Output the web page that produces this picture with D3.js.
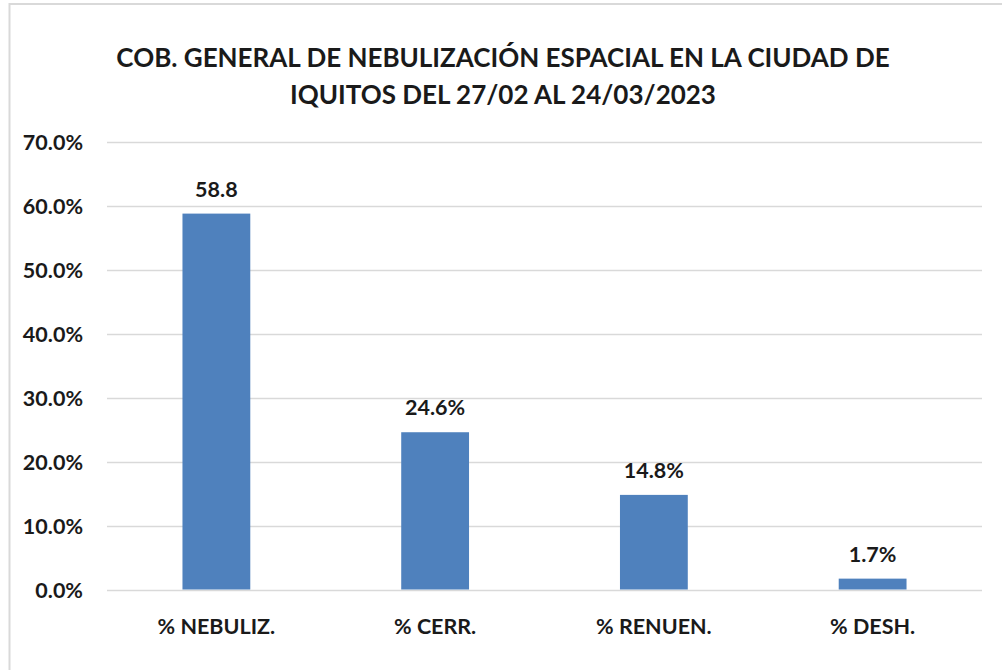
<!DOCTYPE html>
<html>
<head>
<meta charset="utf-8">
<script src="https://cdn.jsdelivr.net/npm/d3@7"></script>
<style>
  html, body { margin: 0; padding: 0; background: #ffffff; }
  svg { display: block; }
  text { font-family: Lato, "Open Sans", sans-serif; font-weight: 700; fill: #1a1a1a; }
</style>
</head>
<body>
<svg id="chart" width="1002" height="670"></svg>
<script>
const titleLines = ["COB. GENERAL DE NEBULIZACIÓN ESPACIAL EN LA CIUDAD DE", "IQUITOS DEL 27/02 AL 24/03/2023"];
const categories = ["% NEBULIZ.", "% CERR.", "% RENUEN.", "% DESH."];
const values = [58.8, 24.6, 14.8, 1.7];
const valueLabels = ["58.8", "24.6%", "14.8%", "1.7%"];
const yTicks = [0, 10, 20, 30, 40, 50, 60, 70];

const svg = d3.select("#chart");
const labelSize = 21.5;

// outer frame
svg.append("rect").attr("x", 9.5).attr("y", 4).attr("width", 1100).attr("height", 800)
  .attr("fill", "#fff").attr("stroke", "#d9d9d9").attr("stroke-width", 2);

const x = d3.scaleBand().domain(categories).range([107, 982]).paddingInner(0.69).paddingOuter(0.345);
const y = d3.scaleLinear().domain([0, 70]).range([589.5, 142]);

// gridlines
const grid = svg.append("g");
grid.selectAll("line").data(yTicks).join("line")
  .attr("x1", 107).attr("x2", 982)
  .attr("y1", d => Math.round(y(d)) + 0.5).attr("y2", d => Math.round(y(d)) + 0.5)
  .attr("stroke", "#d9d9d9").attr("stroke-width", 1.5);

// y axis labels
const yAxis = d3.axisLeft(y).tickValues(yTicks).tickFormat(d => d3.format(".1f")(d) + "%").tickSize(0).tickPadding(0);
const gy = svg.append("g").attr("transform", "translate(83,0)").call(yAxis);
gy.select(".domain").remove();
gy.selectAll("text").attr("font-size", labelSize).attr("font-family", "Lato, sans-serif").attr("font-weight", 700).attr("fill", "#1a1a1a").attr("dy", "0.36em");

// bars
svg.append("g").selectAll("rect").data(values).join("rect")
  .attr("x", (d, i) => x(categories[i]))
  .attr("width", x.bandwidth())
  .attr("y", d => y(d))
  .attr("height", d => y(0) - y(d))
  .attr("fill", "#4f81bd");

// value labels
svg.append("g").selectAll("text").data(values).join("text")
  .attr("x", (d, i) => x(categories[i]) + x.bandwidth() / 2)
  .attr("y", d => y(d) - 17)
  .attr("text-anchor", "middle")
  .attr("font-size", labelSize)
  .text((d, i) => valueLabels[i]);

// x axis labels
const xAxis = d3.axisBottom(x).tickSize(0).tickPadding(0);
const gx = svg.append("g").attr("transform", "translate(0,634)").call(xAxis);
gx.select(".domain").remove();
gx.selectAll("text").attr("font-size", labelSize).attr("font-family", "Lato, sans-serif").attr("font-weight", 700).attr("fill", "#1a1a1a").attr("dy", 0);

// title
svg.append("g").selectAll("text").data(titleLines).join("text")
  .attr("x", 503)
  .attr("y", (d, i) => 67 + i * 37)
  .attr("text-anchor", "middle")
  .attr("font-size", 26)
  .text(d => d);
</script>
</body>
</html>
